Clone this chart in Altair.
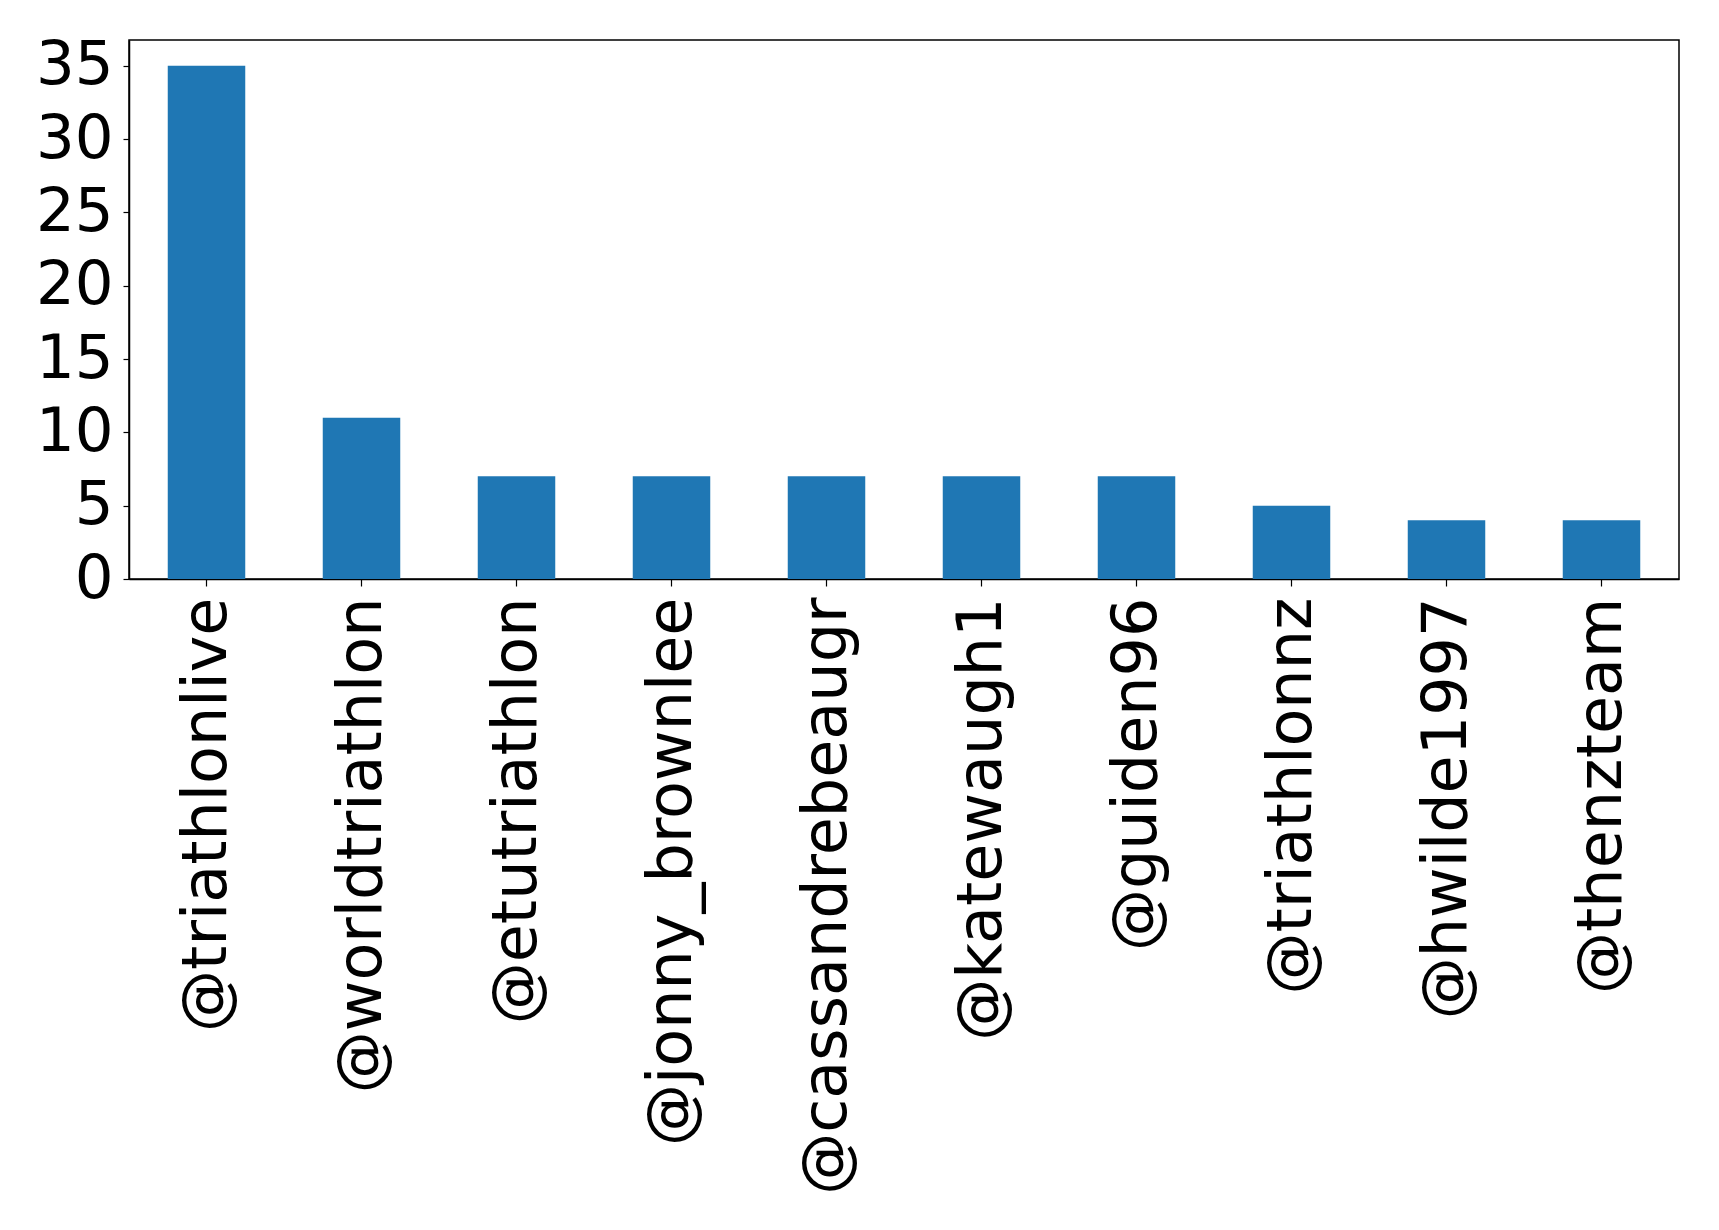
import altair as alt
import pandas as pd

handles = ["@triathlonlive", "@worldtriathlon", "@etutriathlon", "@jonny_brownlee",
           "@cassandrebeaugr", "@katewaugh1", "@guiden96", "@triathlonnz",
           "@hwilde1997", "@thenzteam"]
counts = [35, 11, 7, 7, 7, 7, 7, 5, 4, 4]
y_ticks = [0, 5, 10, 15, 20, 25, 30, 35]

df = pd.DataFrame({"handle": handles, "count": counts})

FONT = "DejaVu Sans"

chart = alt.Chart(df).mark_bar(color="#1f77b4").encode(
    x=alt.X("handle:N", sort=handles, title=None,
            scale=alt.Scale(paddingInner=0.5, paddingOuter=0.25),
            axis=alt.Axis(labelAngle=-90, labelFontSize=62, labelFont=FONT,
                          labelColor="black", tickColor="black", domainColor="black",
                          tickSize=7, labelPadding=11, domainWidth=1.5, tickWidth=1.2,
                          labelLimit=0)),
    y=alt.Y("count:Q", title=None,
            scale=alt.Scale(domain=[0, 36.75], nice=False),
            axis=alt.Axis(values=y_ticks, labelFontSize=61, labelFont=FONT,
                          labelColor="black", tickColor="black", domainColor="black",
                          tickSize=6, labelPadding=10, grid=False, domainWidth=1.5,
                          tickWidth=1.2)),
).properties(
    width=1550, height=539,
    padding={"left": 27, "top": 26, "right": 5, "bottom": 5},
).configure(
    background="white",
    view=alt.ViewConfig(stroke="black", strokeWidth=1.5),
)

chart.save("out.html", embed_options={"renderer": "svg", "actions": False})
